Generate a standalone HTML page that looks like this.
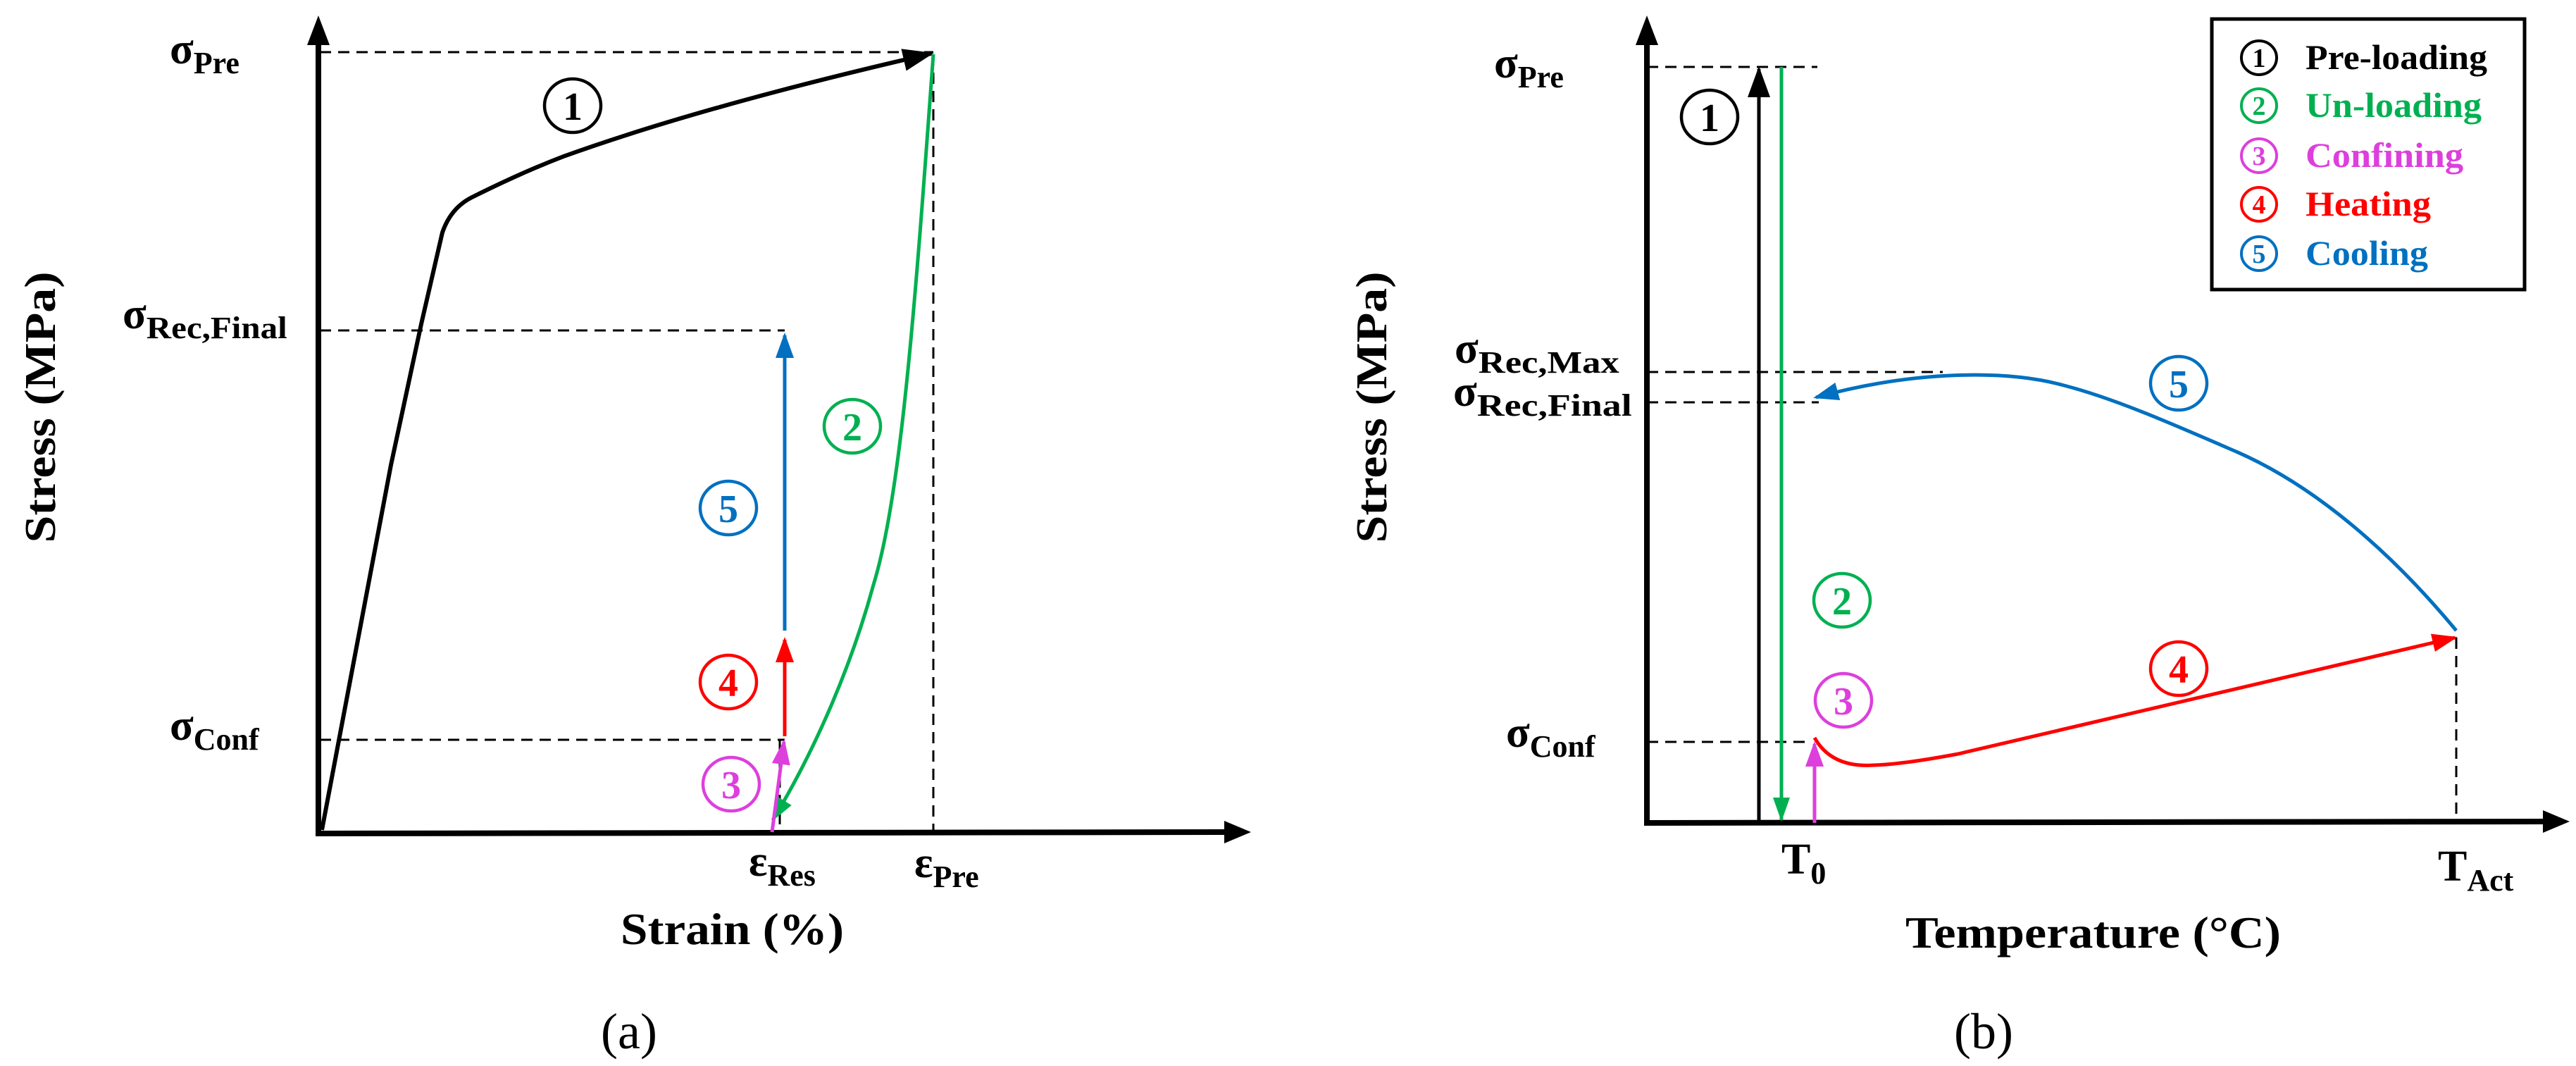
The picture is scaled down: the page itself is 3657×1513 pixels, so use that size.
<!DOCTYPE html>
<html><head><meta charset="utf-8"><style>
html,body{margin:0;padding:0;background:#fff;}
svg{display:block}
text{font-family:"Liberation Serif",serif;font-weight:bold;}
</style></head><body>
<svg width="3657" height="1513" viewBox="0 0 3657 1513" xmlns="http://www.w3.org/2000/svg">
<defs>
<marker id="ak" markerUnits="userSpaceOnUse" markerWidth="50" markerHeight="40" refX="40" refY="20" orient="auto"><path d="M0,4 L44,20 L0,36 Z" fill="#000"/></marker>
<marker id="ag" markerUnits="userSpaceOnUse" markerWidth="40" markerHeight="30" refX="32" refY="15" orient="auto"><path d="M0,3 L34,15 L0,27 Z" fill="#00b050"/></marker>
<marker id="ab" markerUnits="userSpaceOnUse" markerWidth="40" markerHeight="30" refX="32" refY="15" orient="auto"><path d="M0,2 L36,15 L0,28 Z" fill="#0070c0"/></marker>
<marker id="ar" markerUnits="userSpaceOnUse" markerWidth="40" markerHeight="30" refX="32" refY="15" orient="auto"><path d="M0,2 L36,15 L0,28 Z" fill="#ff0000"/></marker>
<marker id="am" markerUnits="userSpaceOnUse" markerWidth="40" markerHeight="30" refX="32" refY="15" orient="auto"><path d="M0,2 L36,15 L0,28 Z" fill="#dd3fdd"/></marker>
</defs>

<!-- ========== Panel (a) ========== -->
<g fill="none" stroke="#000" stroke-width="3" stroke-dasharray="16 10">
<line x1="454" y1="74" x2="1325" y2="74"/>
<line x1="454" y1="469" x2="1114" y2="469"/>
<line x1="454" y1="1050" x2="1114" y2="1050"/>
<line x1="1325" y1="77" x2="1325" y2="1183"/>
<line x1="1107" y1="1050" x2="1107" y2="1183"/>
</g>
<line x1="452" y1="1183" x2="452" y2="60" stroke="#000" stroke-width="8"/>
<path d="M452,22 L436,64 L468,64 Z" fill="#000"/>
<line x1="448" y1="1183" x2="1740" y2="1181" stroke="#000" stroke-width="8"/>
<path d="M1776,1181 L1738,1165 L1738,1197 Z" fill="#000"/>
<path d="M457,1178 L555,660 L598,460 L628,330 Q640,295 670,280 Q740,245 800,222 Q1000,150 1322,76" fill="none" stroke="#000" stroke-width="6" marker-end="url(#ak)"/>
<path d="M1325,77 C1300,420 1280,700 1240,830 C1210,940 1160,1060 1097,1164" fill="none" stroke="#00b050" stroke-width="5" marker-end="url(#ag)"/>
<line x1="1096" y1="1181" x2="1113" y2="1053" stroke="#dd3fdd" stroke-width="5" marker-end="url(#am)"/>
<line x1="1114" y1="1045" x2="1114" y2="908" stroke="#ff0000" stroke-width="5" marker-end="url(#ar)"/>
<line x1="1114" y1="895" x2="1114" y2="476" stroke="#0070c0" stroke-width="5" marker-end="url(#ab)"/>
<g fill="none" stroke-width="4.5">
<ellipse cx="813" cy="150" rx="40" ry="38" stroke="#000"/>
<ellipse cx="1210" cy="605" rx="40" ry="38" stroke="#00b050"/>
<ellipse cx="1034" cy="721" rx="40" ry="38" stroke="#0070c0"/>
<ellipse cx="1034" cy="968" rx="40" ry="38" stroke="#ff0000"/>
<ellipse cx="1038" cy="1113" rx="40" ry="38" stroke="#dd3fdd"/>
</g>
<g font-size="56" text-anchor="middle">
<text x="813" y="170" fill="#000">1</text>
<text x="1210" y="625" fill="#00b050">2</text>
<text x="1034" y="741" fill="#0070c0">5</text>
<text x="1034" y="988" fill="#ff0000">4</text>
<text x="1038" y="1133" fill="#dd3fdd">3</text>
</g>
<g fill="#000">
<text x="241" y="90" font-size="62">σ<tspan font-size="44" dy="14">Pre</tspan></text>
<text x="174" y="466" font-size="62">σ<tspan font-size="44" dy="14" textLength="200" lengthAdjust="spacingAndGlyphs">Rec,Final</tspan></text>
<text x="241" y="1050" font-size="62">σ<tspan font-size="44" dy="14">Conf</tspan></text>
<text x="1063" y="1243" font-size="62">ε<tspan font-size="44" dy="14">Res</tspan></text>
<text x="1298" y="1245" font-size="62">ε<tspan font-size="44" dy="14">Pre</tspan></text>
<text x="881" y="1340" font-size="64" textLength="317" lengthAdjust="spacingAndGlyphs">Strain (%)</text>
<text transform="translate(78,578) rotate(-90)" font-size="62" text-anchor="middle" textLength="385" lengthAdjust="spacingAndGlyphs">Stress (MPa)</text>
<text x="893" y="1488" font-size="72" text-anchor="middle" style="font-weight:normal">(a)</text>
</g>

<!-- ========== Panel (b) ========== -->
<g fill="none" stroke="#000" stroke-width="3" stroke-dasharray="16 10">
<line x1="2338" y1="95" x2="2580" y2="95"/>
<line x1="2338" y1="528" x2="2758" y2="528"/>
<line x1="2338" y1="571" x2="2582" y2="571"/>
<line x1="2338" y1="1053" x2="2570" y2="1053"/>
<line x1="3487" y1="905" x2="3487" y2="1168"/>
</g>
<line x1="2338" y1="1170" x2="2338" y2="60" stroke="#000" stroke-width="8"/>
<path d="M2338,22 L2322,64 L2354,64 Z" fill="#000"/>
<line x1="2334" y1="1168" x2="3612" y2="1166" stroke="#000" stroke-width="8"/>
<path d="M3648,1166 L3610,1150 L3610,1182 Z" fill="#000"/>
<line x1="2497" y1="1168" x2="2497" y2="98" stroke="#000" stroke-width="5" marker-end="url(#ak)"/>
<line x1="2529" y1="95" x2="2529" y2="1164" stroke="#00b050" stroke-width="5" marker-end="url(#ag)"/>
<line x1="2576" y1="1168" x2="2576" y2="1056" stroke="#dd3fdd" stroke-width="5" marker-end="url(#am)"/>
<path d="M2576,1047 Q2600,1090 2660,1086 Q2700,1085 2780,1070 L3485,905" fill="none" stroke="#ff0000" stroke-width="5" marker-end="url(#ar)"/>
<path d="M3487,895 C3400,790 3290,690 3170,639 C3080,600 3000,565 2930,547 C2850,525 2720,525 2578,564" fill="none" stroke="#0070c0" stroke-width="5" marker-end="url(#ab)"/>
<g fill="none" stroke-width="4.5">
<ellipse cx="2427" cy="166" rx="40" ry="38" stroke="#000"/>
<ellipse cx="2615" cy="852" rx="40" ry="38" stroke="#00b050"/>
<ellipse cx="2617" cy="994" rx="40" ry="38" stroke="#dd3fdd"/>
<ellipse cx="3093" cy="949" rx="40" ry="38" stroke="#ff0000"/>
<ellipse cx="3093" cy="544" rx="40" ry="38" stroke="#0070c0"/>
</g>
<g font-size="56" text-anchor="middle">
<text x="2427" y="186" fill="#000">1</text>
<text x="2615" y="872" fill="#00b050">2</text>
<text x="2617" y="1014" fill="#dd3fdd">3</text>
<text x="3093" y="969" fill="#ff0000">4</text>
<text x="3093" y="564" fill="#0070c0">5</text>
</g>
<g fill="#000">
<text x="2121" y="110" font-size="62">σ<tspan font-size="44" dy="14">Pre</tspan></text>
<text x="2065" y="515" font-size="62">σ<tspan font-size="44" dy="14" textLength="200" lengthAdjust="spacingAndGlyphs">Rec,Max</tspan></text>
<text x="2063" y="576" font-size="62">σ<tspan font-size="44" dy="14" textLength="220" lengthAdjust="spacingAndGlyphs">Rec,Final</tspan></text>
<text x="2138" y="1060" font-size="62">σ<tspan font-size="44" dy="14">Conf</tspan></text>
<text x="2529" y="1240" font-size="62">T<tspan font-size="44" dy="14">0</tspan></text>
<text x="3461" y="1250" font-size="62">T<tspan font-size="44" dy="14">Act</tspan></text>
<text x="2705" y="1345" font-size="64" textLength="533" lengthAdjust="spacingAndGlyphs">Temperature (°C)</text>
<text transform="translate(1968,578) rotate(-90)" font-size="62" text-anchor="middle" textLength="385" lengthAdjust="spacingAndGlyphs">Stress (MPa)</text>
<text x="2816" y="1488" font-size="72" text-anchor="middle" style="font-weight:normal">(b)</text>
</g>
<rect x="3140" y="27" width="444" height="384" fill="#fff" stroke="#000" stroke-width="5"/>
<g fill="none" stroke-width="4">
<ellipse cx="3207" cy="82" rx="25" ry="24" stroke="#000"/>
<ellipse cx="3207" cy="150" rx="25" ry="24" stroke="#00b050"/>
<ellipse cx="3207" cy="221" rx="25" ry="24" stroke="#dd3fdd"/>
<ellipse cx="3207" cy="290" rx="25" ry="24" stroke="#ff0000"/>
<ellipse cx="3207" cy="360" rx="25" ry="24" stroke="#0070c0"/>
</g>
<g font-size="38" text-anchor="middle" style="font-weight:normal">
<text x="3207" y="95" fill="#000">1</text>
<text x="3207" y="163" fill="#00b050">2</text>
<text x="3207" y="234" fill="#dd3fdd">3</text>
<text x="3207" y="303" fill="#ff0000">4</text>
<text x="3207" y="373" fill="#0070c0">5</text>
</g>
<g font-size="50">
<text x="3273" y="98" fill="#000" textLength="258" lengthAdjust="spacingAndGlyphs">Pre-loading</text>
<text x="3273" y="166" fill="#00b050" textLength="250" lengthAdjust="spacingAndGlyphs">Un-loading</text>
<text x="3273" y="237" fill="#dd3fdd" textLength="224" lengthAdjust="spacingAndGlyphs">Confining</text>
<text x="3273" y="306" fill="#ff0000" textLength="178" lengthAdjust="spacingAndGlyphs">Heating</text>
<text x="3273" y="376" fill="#0070c0" textLength="174" lengthAdjust="spacingAndGlyphs">Cooling</text>
</g>
</svg>
</body></html>
